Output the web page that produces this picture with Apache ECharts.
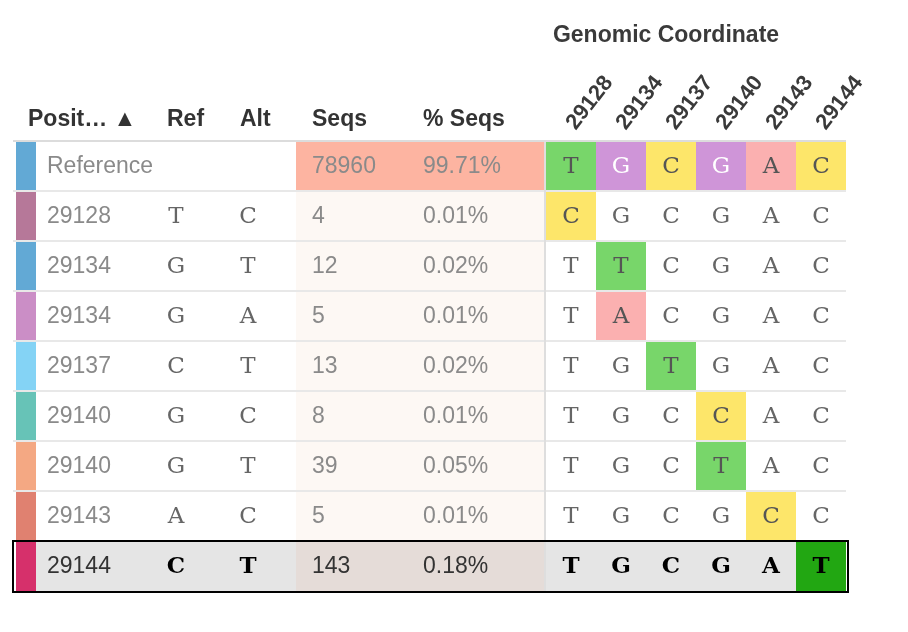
<!DOCTYPE html>
<html>
<head>
<meta charset="utf-8">
<script src="https://cdn.jsdelivr.net/npm/echarts@6/dist/echarts.min.js"></script>
<style>
  html, body { margin: 0; padding: 0; background: #fff; }
  #chart { width: 908px; height: 632px; }
</style>
</head>
<body>
<div id="chart"></div>
<script>
// variant table rows
const positions = ['Reference', '29128', '29134', '29134', '29137', '29140', '29140', '29143', '29144'];
const refBases = ['', 'T', 'G', 'G', 'C', 'G', 'G', 'A', 'C'];
const altBases = ['', 'C', 'T', 'A', 'T', 'C', 'T', 'C', 'T'];
const seqCounts = [78960, 4, 12, 5, 13, 8, 39, 5, 143];
const seqPercents = [99.71, 0.01, 0.02, 0.01, 0.02, 0.01, 0.05, 0.01, 0.18];

// genomic coordinate columns
const coords = ['29128', '29134', '29137', '29140', '29143', '29144'];
const refSequence = ['T', 'G', 'C', 'G', 'A', 'C'];

const headers = ['Posit\u2026 \u25B2', 'Ref', 'Alt', 'Seqs', '% Seqs'];
const selectedRow = 8;

// layout (px)
const TABLE_W = 532, GENO_W = 300;
const HEADER_X = [15, 154, 227, 299, 410];
const COL = { barL: 3, barR: 23, pos: 34, ref: 163, alt: 235, seqsBg: 283, seqs: 299, pct: 410 };

// styles
const SANS = "'Liberation Sans', Arial, Helvetica, sans-serif";
const BASEFONT = "'DejaVu Serif', 'Courier New', serif";
const rowColors = ['#62a9d5', '#b67899', '#62a9d5', '#cb8ec6', '#84d3f5', '#67c3b7', '#f4a883', '#e08170', '#d6306b'];
const baseColors = { T: '#78d66a', G: '#cf95d8', C: '#fde66a', A: '#fbb0b0' };

// build the genomic cells from the variant list
const genoCells = [];
positions.forEach((p, r) => {
  coords.forEach((c, k) => {
    const isAlt = r > 0 && p === c;
    genoCells.push({ col: k, row: r, base: isAlt ? altBases[r] : refSequence[k], filled: r === 0 || isAlt });
  });
});

function rowBox(api, x, row) {
  const pt = api.coord([x, row]);
  const h = api.size([0, 1])[1];
  return { x: pt[0], cy: pt[1], top: pt[1] - h / 2, h: h };
}

function baseText(x, y, s, color, bold) {
  return {
    type: 'text', x: x, y: y + 1,
    style: { text: s, font: (bold ? 'bold ' : '') + '23px ' + BASEFONT, fill: color, align: 'center', verticalAlign: 'middle' }
  };
}

function renderTable(params, api) {
  const row = api.value(1);
  const b = rowBox(api, 0, row);
  const sel = row === selectedRow;
  const seqBg = row === 0 ? '#fdb4a1' : (sel ? '#e5dcd8' : '#fdf8f4');
  const sansColor = sel ? '#333' : '#8a8a8a';
  const monoColor = sel ? '#000' : '#666';
  const kids = [];
  if (sel) {
    kids.push({ type: 'rect', shape: { x: b.x + COL.barR, y: b.top, width: TABLE_W - COL.barR, height: b.h }, style: { fill: '#e5e5e5' } });
  }
  kids.push({ type: 'rect', shape: { x: b.x + COL.seqsBg, y: b.top, width: TABLE_W - COL.seqsBg, height: b.h }, style: { fill: seqBg } });
  kids.push({ type: 'rect', shape: { x: b.x + COL.barL, y: b.top + 1, width: COL.barR - COL.barL, height: b.h - 1 }, style: { fill: rowColors[row] } });
  const txt = (x, s) => ({
    type: 'text', x: b.x + x, y: b.cy + 1,
    style: { text: s, font: '23px ' + SANS, fill: sansColor, align: 'left', verticalAlign: 'middle' }
  });
  kids.push(txt(COL.pos, positions[row]));
  kids.push(baseText(b.x + COL.ref, b.cy, refBases[row], monoColor, sel));
  kids.push(baseText(b.x + COL.alt, b.cy, altBases[row], monoColor, sel));
  kids.push(txt(COL.seqs, String(seqCounts[row])));
  kids.push(txt(COL.pct, seqPercents[row].toFixed(2) + '%'));
  return { type: 'group', children: kids };
}

function renderGeno(params, api) {
  const cell = genoCells[params.dataIndex];
  const pt = api.coord([cell.col, cell.row]);
  const sz = api.size([1, 1]);
  const sel = cell.row === selectedRow;
  const kids = [];
  let fill = null;
  if (cell.filled) fill = sel ? '#22a712' : baseColors[cell.base];
  else if (sel) fill = '#e5e5e5';
  if (fill) {
    kids.push({ type: 'rect', shape: { x: pt[0] - sz[0] / 2, y: pt[1] - sz[1] / 2 + 1, width: sz[0], height: sz[1] - 1 }, style: { fill: fill } });
  }
  let color = '#666';
  if (sel) color = '#000';
  else if (cell.filled) color = cell.base === 'G' ? '#fff' : '#555';
  kids.push(baseText(pt[0], pt[1], cell.base, color, sel));
  return { type: 'group', children: kids };
}

function renderLines(params, api) {
  const kids = [];
  const full = TABLE_W + GENO_W + 1;
  let first = null, last = null;
  positions.forEach((p, r) => {
    const b = rowBox(api, 0, r);
    if (r === 0) first = b;
    last = b;
    kids.push({ type: 'line', shape: { x1: b.x, y1: b.top, x2: b.x + full, y2: b.top }, style: { stroke: r === 0 ? '#dcdcdc' : '#e8e8e8', lineWidth: 2 } });
  });
  kids.push({ type: 'line', shape: { x1: first.x + TABLE_W, y1: first.top, x2: first.x + TABLE_W, y2: last.top + last.h }, style: { stroke: '#dedede', lineWidth: 2 } });
  const s = rowBox(api, 0, selectedRow);
  kids.push({ type: 'rect', shape: { x: s.x, y: s.top, width: full + 2, height: s.h + 1 }, style: { fill: null, stroke: '#000', lineWidth: 2 } });
  return { type: 'group', children: kids };
}

const chart = echarts.init(document.getElementById('chart'));
const rowIds = positions.map((p, i) => String(i));

chart.setOption({
  animation: false,
  grid: [
    { left: 13, top: 141, width: TABLE_W, height: 450 },
    { left: 546, top: 141, width: GENO_W, height: 450 }
  ],
  xAxis: [
    {
      type: 'value', gridIndex: 0, min: 0, max: TABLE_W, position: 'top',
      axisLine: { show: false }, axisTick: { show: false }, splitLine: { show: false },
      axisLabel: {
        customValues: HEADER_X,
        formatter: v => headers[HEADER_X.indexOf(v)],
        align: 'left', margin: 10, fontSize: 23, fontWeight: 'bold', color: '#333', fontFamily: SANS
      }
    },
    {
      type: 'category', gridIndex: 1, data: coords, position: 'top',
      axisLine: { show: false }, axisTick: { show: false }, splitLine: { show: false },
      axisLabel: { interval: 0, rotate: -52, margin: 14, fontSize: 22, fontWeight: 'bold', color: '#3a3a3a', fontFamily: SANS },
      name: 'Genomic Coordinate', nameLocation: 'middle', nameGap: 94,
      nameTextStyle: { fontSize: 23, fontWeight: 'bold', color: '#3a3a3a', fontFamily: SANS, padding: [0, 60, 0, 0] }
    }
  ],
  yAxis: [
    { type: 'category', gridIndex: 0, data: rowIds, inverse: true, show: false },
    { type: 'category', gridIndex: 1, data: rowIds, inverse: true, show: false }
  ],
  series: [
    {
      type: 'custom', name: 'table', xAxisIndex: 0, yAxisIndex: 0, z: 2,
      renderItem: renderTable,
      data: positions.map((p, i) => [0, i])
    },
    {
      type: 'custom', name: 'genome', xAxisIndex: 1, yAxisIndex: 1, z: 3,
      renderItem: renderGeno,
      data: genoCells.map(c => [c.col, c.row])
    },
    {
      type: 'custom', name: 'rules', xAxisIndex: 0, yAxisIndex: 0, z: 5,
      renderItem: renderLines, silent: true,
      data: [[0, 0]]
    }
  ]
});
</script>
</body>
</html>
